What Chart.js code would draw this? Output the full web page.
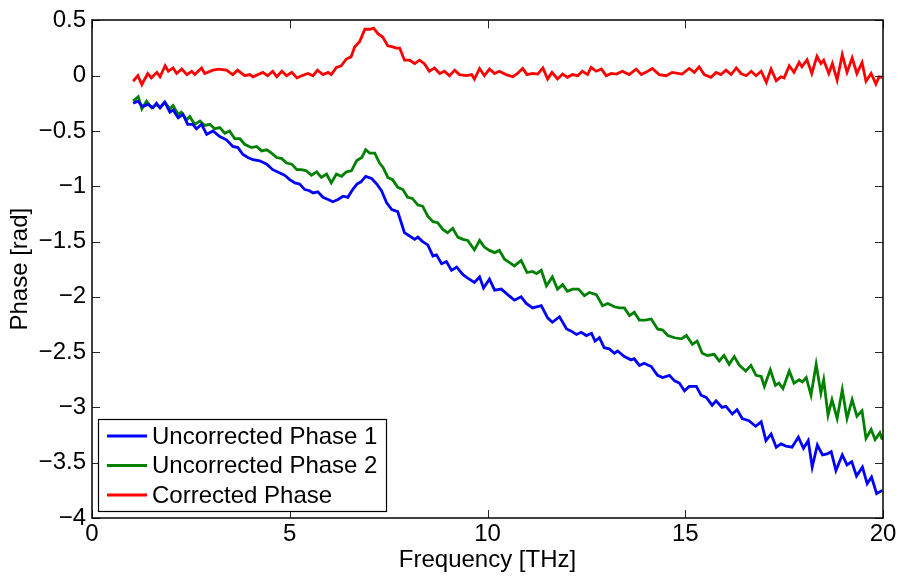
<!DOCTYPE html>
<html>
<head>
<meta charset="utf-8">
<script src="https://cdn.jsdelivr.net/npm/chart.js@4.4.0/dist/chart.umd.min.js"></script>
<style>
  html, body { margin: 0; padding: 0; background: #fff; }
  #wrap { width: 900px; height: 577px; }
</style>
</head>
<body>
<div id="wrap"><canvas id="phaseChart" width="900" height="577"></canvas></div>
<script>
// Datos (frecuencia en THz, fase en rad)
const freqU1 = [1.04,1.16,1.28,1.41,1.54,1.63,1.72,1.84,1.97,2.05,2.18,2.30,2.42,2.55,2.64,2.77,2.90,3.06,3.23,3.40,3.56,3.69,3.81,3.94,4.07,4.24,4.42,4.57,4.75,4.87,5.00,5.13,5.25,5.38,5.50,5.59,5.71,5.84,5.97,6.09,6.22,6.35,6.47,6.59,6.70,6.80,6.92,7.07,7.20,7.32,7.45,7.58,7.73,7.82,7.90,8.03,8.16,8.24,8.36,8.49,8.62,8.71,8.84,8.96,9.09,9.22,9.38,9.50,9.67,9.80,9.90,10.05,10.18,10.35,10.51,10.68,10.85,10.98,11.14,11.36,11.52,11.64,11.82,12.00,12.12,12.25,12.37,12.50,12.63,12.72,12.83,12.95,13.08,13.21,13.29,13.46,13.63,13.71,13.84,13.96,14.14,14.30,14.43,14.60,14.73,14.85,14.98,15.10,15.28,15.40,15.53,15.68,15.78,15.93,16.03,16.19,16.31,16.44,16.61,16.78,16.92,17.04,17.17,17.30,17.42,17.55,17.70,17.86,17.99,18.11,18.21,18.34,18.47,18.59,18.69,18.81,18.97,19.09,19.21,19.33,19.48,19.60,19.71,19.84,19.98];
const phaseU1 = [-0.25,-0.23,-0.28,-0.26,-0.29,-0.25,-0.29,-0.24,-0.33,-0.31,-0.38,-0.35,-0.44,-0.44,-0.48,-0.44,-0.53,-0.50,-0.55,-0.58,-0.64,-0.65,-0.71,-0.74,-0.76,-0.77,-0.80,-0.85,-0.88,-0.90,-0.94,-0.97,-0.98,-1.03,-1.04,-1.06,-1.05,-1.10,-1.12,-1.14,-1.12,-1.09,-1.10,-1.03,-0.98,-0.96,-0.91,-0.93,-0.98,-1.04,-1.15,-1.21,-1.23,-1.33,-1.42,-1.45,-1.48,-1.46,-1.50,-1.53,-1.63,-1.62,-1.70,-1.68,-1.76,-1.73,-1.80,-1.83,-1.87,-1.82,-1.92,-1.84,-1.94,-1.93,-1.98,-2.03,-2.00,-2.06,-2.10,-2.08,-2.19,-2.23,-2.18,-2.29,-2.31,-2.34,-2.32,-2.35,-2.33,-2.40,-2.37,-2.46,-2.47,-2.51,-2.49,-2.54,-2.57,-2.56,-2.62,-2.60,-2.63,-2.71,-2.73,-2.71,-2.76,-2.78,-2.85,-2.81,-2.81,-2.89,-2.91,-2.98,-2.94,-3.00,-2.99,-3.06,-3.02,-3.10,-3.12,-3.17,-3.13,-3.30,-3.24,-3.36,-3.33,-3.35,-3.36,-3.27,-3.37,-3.30,-3.54,-3.34,-3.43,-3.42,-3.40,-3.57,-3.43,-3.52,-3.49,-3.62,-3.54,-3.69,-3.63,-3.78,-3.75];

const freqU2 = [1.04,1.17,1.26,1.38,1.51,1.63,1.72,1.84,1.97,2.05,2.18,2.26,2.39,2.47,2.60,2.73,2.85,2.98,3.10,3.23,3.36,3.48,3.61,3.74,3.86,4.03,4.16,4.29,4.42,4.54,4.67,4.80,4.92,5.05,5.18,5.30,5.42,5.55,5.68,5.80,5.93,6.05,6.18,6.31,6.43,6.56,6.69,6.82,6.92,7.02,7.15,7.27,7.36,7.48,7.60,7.73,7.86,7.98,8.10,8.24,8.36,8.49,8.62,8.74,8.87,8.99,9.12,9.25,9.38,9.50,9.67,9.80,9.92,10.05,10.18,10.30,10.43,10.56,10.68,10.85,11.00,11.14,11.24,11.36,11.49,11.64,11.77,11.90,12.02,12.15,12.30,12.45,12.58,12.75,12.91,13.04,13.21,13.33,13.46,13.59,13.71,13.84,14.00,14.14,14.30,14.43,14.56,14.73,14.90,15.03,15.18,15.30,15.43,15.56,15.73,15.86,15.98,16.11,16.24,16.37,16.53,16.66,16.79,16.92,17.00,17.15,17.28,17.37,17.47,17.63,17.75,17.88,17.96,18.06,18.18,18.31,18.43,18.50,18.61,18.71,18.84,18.97,19.09,19.22,19.34,19.47,19.57,19.70,19.80,19.92,19.98];
const phaseU2 = [-0.23,-0.19,-0.30,-0.23,-0.29,-0.26,-0.29,-0.24,-0.30,-0.27,-0.35,-0.33,-0.40,-0.37,-0.44,-0.41,-0.45,-0.44,-0.48,-0.47,-0.52,-0.50,-0.57,-0.57,-0.62,-0.65,-0.64,-0.68,-0.67,-0.70,-0.74,-0.75,-0.79,-0.80,-0.85,-0.85,-0.86,-0.90,-0.87,-0.92,-0.89,-0.97,-0.89,-0.91,-0.87,-0.86,-0.77,-0.74,-0.67,-0.70,-0.70,-0.79,-0.83,-0.92,-0.94,-1.01,-1.03,-1.10,-1.11,-1.17,-1.18,-1.27,-1.32,-1.33,-1.39,-1.42,-1.38,-1.46,-1.48,-1.49,-1.575,-1.49,-1.55,-1.58,-1.60,-1.58,-1.66,-1.69,-1.72,-1.67,-1.78,-1.77,-1.79,-1.76,-1.90,-1.82,-1.93,-1.89,-1.95,-1.93,-1.93,-1.99,-1.96,-1.98,-2.08,-2.06,-2.09,-2.10,-2.10,-2.17,-2.14,-2.21,-2.21,-2.20,-2.29,-2.30,-2.35,-2.37,-2.38,-2.35,-2.43,-2.40,-2.51,-2.53,-2.52,-2.58,-2.53,-2.61,-2.54,-2.62,-2.67,-2.62,-2.71,-2.72,-2.81,-2.66,-2.80,-2.78,-2.83,-2.67,-2.78,-2.75,-2.77,-2.73,-2.89,-2.61,-2.87,-2.75,-3.07,-2.93,-3.10,-2.84,-3.10,-2.93,-3.08,-3.03,-3.28,-3.20,-3.29,-3.23,-3.29];

const freqCorr = [1.04,1.16,1.26,1.41,1.50,1.64,1.72,1.85,1.93,2.05,2.14,2.27,2.40,2.52,2.60,2.77,2.85,3.06,3.20,3.40,3.56,3.68,3.86,3.99,4.07,4.32,4.44,4.57,4.67,4.80,4.92,5.05,5.18,5.30,5.46,5.59,5.70,5.84,5.97,6.05,6.18,6.30,6.43,6.55,6.64,6.77,6.90,7.02,7.12,7.23,7.35,7.48,7.60,7.70,7.78,7.90,8.03,8.16,8.28,8.40,8.53,8.66,8.79,8.91,9.04,9.17,9.29,9.47,9.60,9.67,9.80,9.92,10.05,10.18,10.30,10.47,10.64,10.76,10.89,11.00,11.14,11.27,11.40,11.52,11.63,11.77,11.90,12.02,12.15,12.28,12.40,12.53,12.62,12.75,12.88,13.00,13.13,13.26,13.41,13.58,13.76,13.89,14.05,14.17,14.34,14.52,14.67,14.92,15.10,15.23,15.35,15.48,15.65,15.78,15.90,16.03,16.16,16.29,16.41,16.54,16.67,16.79,16.92,17.05,17.17,17.30,17.42,17.50,17.63,17.75,17.88,17.95,18.08,18.20,18.33,18.43,18.50,18.63,18.72,18.84,18.97,19.09,19.22,19.34,19.47,19.57,19.70,19.82,19.90,19.98];
const phaseCorr = [-0.05,0.00,-0.08,0.02,-0.02,0.03,-0.01,0.09,0.04,0.07,0.02,0.06,0.01,0.04,0.01,0.07,0.02,0.05,0.06,0.05,0.01,0.05,0.00,0.01,-0.01,0.03,0.00,0.04,-0.01,0.04,0.00,0.03,-0.02,0.00,0.02,0.00,0.05,0.01,0.03,0.01,0.075,0.09,0.15,0.17,0.26,0.31,0.42,0.42,0.43,0.38,0.35,0.27,0.26,0.25,0.25,0.14,0.14,0.11,0.14,0.11,0.04,0.07,0.02,0.04,0.00,0.05,0.01,0.00,0.01,-0.03,0.065,0.00,0.06,0.02,0.04,0.01,-0.01,0.02,0.065,0.01,0.02,0.015,0.07,-0.03,0.03,-0.03,0.015,-0.015,0.01,0.00,0.04,0.01,0.075,0.04,0.06,0.00,0.02,0.015,0.04,0.01,0.06,0.01,0.04,0.065,0.01,0.00,0.03,0.015,0.065,0.03,0.08,0.01,-0.015,0.03,0.01,0.05,0.01,0.07,0.02,0.00,0.04,0.00,0.04,-0.06,0.06,-0.045,-0.01,-0.02,0.09,0.03,0.12,0.08,0.145,0.02,0.175,0.11,0.14,0.02,0.11,-0.04,0.19,0.03,0.16,0.02,0.12,-0.05,0.02,-0.075,-0.01,-0.015];

const xTicks = [0, 5, 10, 15, 20];
const yTicks = [-4, -3.5, -3, -2.5, -2, -1.5, -1, -0.5, 0, 0.5];

const FUENTE = '"Liberation Sans", Arial, Helvetica, sans-serif';
const TAM = 24;

// Combina frecuencia y fase en puntos {x, y}
function puntos(xs, ys) {
    return xs.map((x, i) => ({ x: x, y: ys[i] }));
}

// Ejes estilo MATLAB: caja y marcas hacia adentro, más la leyenda
const cajaMatlab = {
    id: 'cajaMatlab',
    afterDatasetsDraw(chart) {
        const ctx = chart.ctx;
        const a = chart.chartArea;
        const sx = chart.scales.x;
        const sy = chart.scales.y;
        const largo = 8;
        ctx.save();
        ctx.strokeStyle = '#262626';
        ctx.lineWidth = 1;
        xTicks.forEach(v => {
            const px = Math.round(sx.getPixelForValue(v)) + 0.5;
            ctx.beginPath();
            ctx.moveTo(px, a.bottom); ctx.lineTo(px, a.bottom - largo);
            ctx.moveTo(px, a.top); ctx.lineTo(px, a.top + largo);
            ctx.stroke();
        });
        yTicks.forEach(v => {
            const py = Math.round(sy.getPixelForValue(v)) + 0.5;
            ctx.beginPath();
            ctx.moveTo(a.left, py); ctx.lineTo(a.left + largo, py);
            ctx.moveTo(a.right, py); ctx.lineTo(a.right - largo, py);
            ctx.stroke();
        });
        ctx.strokeStyle = '#000';
        ctx.lineWidth = 1.5;
        ctx.strokeRect(Math.round(a.left), Math.round(a.top), Math.round(a.right - a.left), Math.round(a.bottom - a.top));

        // Leyenda abajo a la izquierda
        const lx = a.left + 6, ly = a.bottom - 99, lw = 288, lh = 92;
        ctx.fillStyle = '#fff';
        ctx.fillRect(lx, ly, lw, lh);
        ctx.strokeStyle = '#000';
        ctx.lineWidth = 1.2;
        ctx.strokeRect(lx + 0.5, ly + 0.5, lw, lh);
        ctx.font = TAM + 'px ' + FUENTE;
        ctx.textBaseline = 'middle';
        ctx.textAlign = 'left';
        chart.data.datasets.forEach((ds, i) => {
            const fy = ly + 17 + i * 29.5;
            ctx.strokeStyle = ds.borderColor;
            ctx.lineWidth = 3;
            ctx.beginPath();
            ctx.moveTo(lx + 9, fy); ctx.lineTo(lx + 49, fy);
            ctx.stroke();
            ctx.fillStyle = '#000';
            ctx.fillText(ds.label, lx + 54, fy + 1);
        });
        ctx.restore();
    }
};

function crearGrafica() {
    const ctx = document.getElementById('phaseChart').getContext('2d');
    new Chart(ctx, {
        type: 'line',
        data: {
            datasets: [
                { label: 'Uncorrected Phase 1', data: puntos(freqU1, phaseU1), borderColor: '#0000ff' },
                { label: 'Uncorrected Phase 2', data: puntos(freqU2, phaseU2), borderColor: '#008000' },
                { label: 'Corrected Phase', data: puntos(freqCorr, phaseCorr), borderColor: '#ff0000' }
            ]
        },
        options: {
            responsive: false,
            animation: false,
            parsing: false,
            layout: { padding: { top: 19, right: 17, left: 0, bottom: 0 } },
            elements: {
                line: { borderWidth: 2.8, tension: 0, fill: false },
                point: { radius: 0 }
            },
            plugins: { legend: { display: false }, tooltip: { enabled: false } },
            scales: {
                x: {
                    type: 'linear',
                    min: 0, max: 20,
                    afterFit: s => { s.height = 59; },
                    afterBuildTicks: s => { s.ticks = xTicks.map(v => ({ value: v })); },
                    grid: { display: false, drawTicks: false },
                    border: { display: false },
                    ticks: { color: '#000', font: { family: FUENTE, size: TAM }, padding: 2, maxRotation: 0 },
                    title: { display: true, text: 'Frequency [THz]', color: '#000', font: { family: FUENTE, size: TAM }, padding: { top: 0, bottom: 2 } }
                },
                y: {
                    type: 'linear',
                    min: -4, max: 0.5,
                    afterFit: s => { s.width = 92; },
                    afterBuildTicks: s => { s.ticks = yTicks.map(v => ({ value: v })); },
                    grid: { display: false, drawTicks: false },
                    border: { display: false },
                    ticks: {
                        color: '#000', font: { family: FUENTE, size: TAM }, padding: 6,
                        callback: v => String(v).replace('-', '\u2212')
                    },
                    title: { display: true, text: 'Phase [rad]', color: '#000', font: { family: FUENTE, size: TAM }, padding: { top: 6, bottom: 0 } }
                }
            }
        },
        plugins: [cajaMatlab]
    });
}

document.addEventListener('DOMContentLoaded', () => {
    crearGrafica();
});
</script>
</body>
</html>
